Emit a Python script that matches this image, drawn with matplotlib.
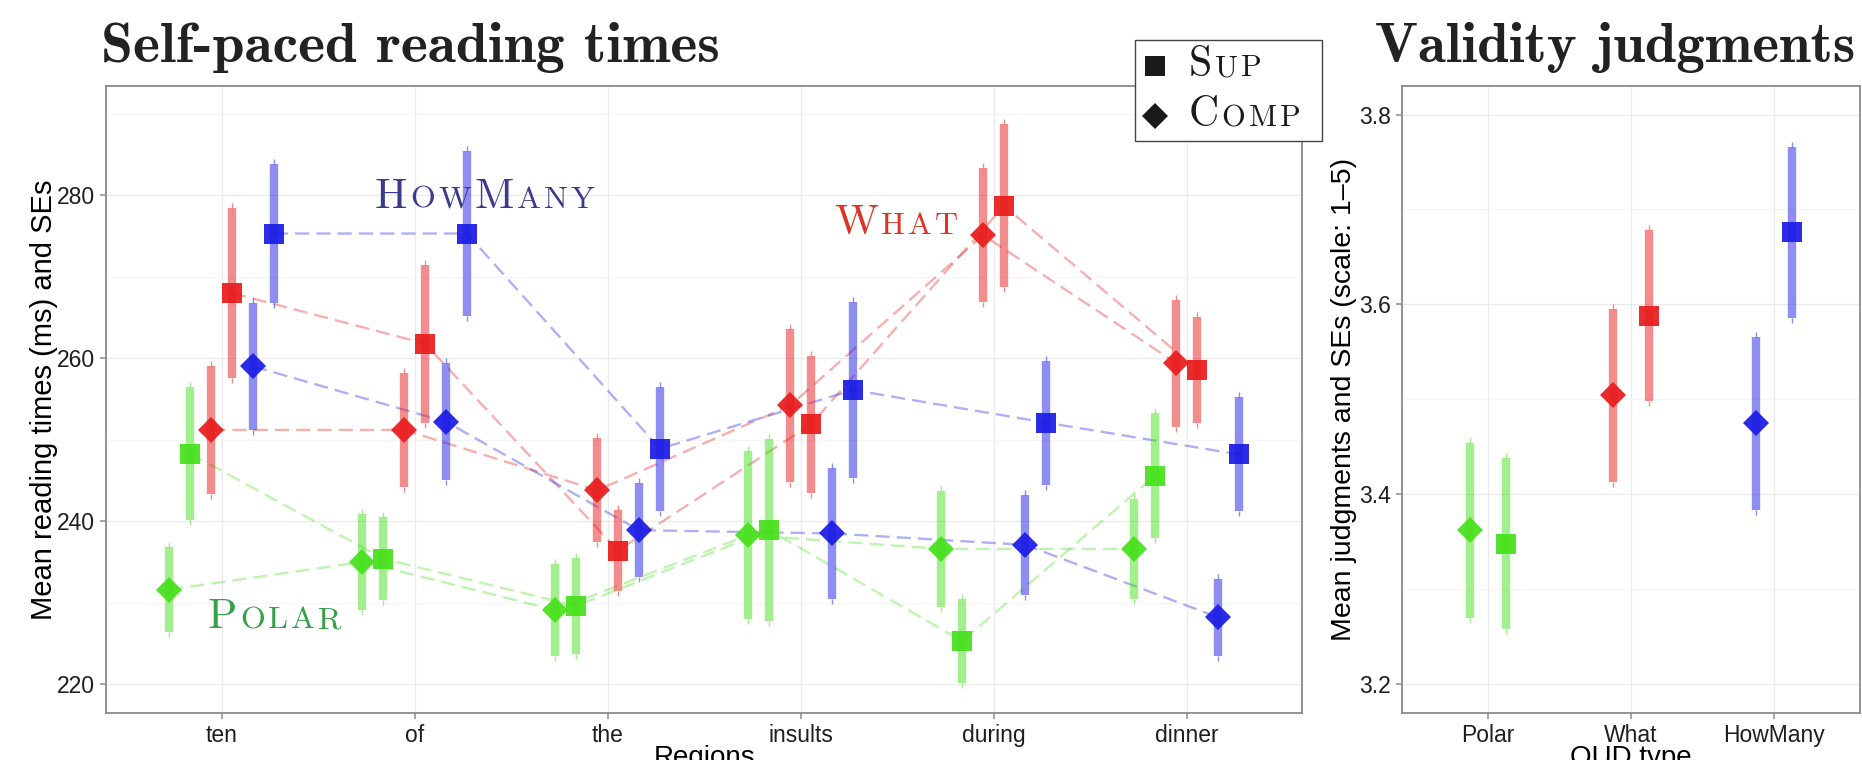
import matplotlib
matplotlib.use("Agg")
import matplotlib.pyplot as plt
import numpy as np
from matplotlib.ticker import MultipleLocator, FixedLocator
from matplotlib.lines import Line2D
from matplotlib.offsetbox import (TextArea, HPacker, VPacker, DrawingArea,
                                  AnnotationBbox, AnchoredOffsetbox)

plt.rcParams['font.family'] = ['Liberation Sans', 'DejaVu Sans']

# ---- data: self-paced reading (ms), mean and SE per region ----
regions = ['ten', 'of', 'the', 'insults', 'during', 'dinner']

polar_comp = [231.6, 235.0, 229.1, 238.3, 236.6, 236.6]
polar_comp_se = [5.2, 5.9, 5.7, 10.3, 7.1, 6.1]
polar_sup = [248.3, 235.4, 229.6, 238.9, 225.3, 245.6]
polar_sup_se = [8.2, 5.1, 5.9, 11.2, 5.1, 7.7]
what_comp = [251.2, 251.2, 243.8, 254.2, 275.1, 259.4]
what_comp_se = [7.9, 7.0, 6.4, 9.4, 8.2, 7.8]
what_sup = [268.0, 261.8, 236.4, 251.9, 278.7, 258.6]
what_sup_se = [10.4, 9.7, 5.0, 8.4, 10.0, 6.5]
howmany_comp = [259.0, 252.2, 238.9, 238.5, 237.1, 228.2]
howmany_comp_se = [7.8, 7.2, 5.8, 8.0, 6.1, 4.7]
howmany_sup = [275.3, 275.3, 248.9, 256.1, 252.1, 248.2]
howmany_sup_se = [8.5, 10.1, 7.6, 10.8, 7.6, 7.0]

# ---- data: validity judgments (scale 1-5) ----
qud_types = ['Polar', 'What', 'HowMany']
judg_comp = [3.362, 3.5045, 3.475]
judg_comp_se = [0.092, 0.091, 0.091]
judg_sup = [3.348, 3.588, 3.676]
judg_sup_se = [0.090, 0.090, 0.090]

RED = '#e81c1c'
BLUE = '#1c1ce6'
GREEN = '#47e01c'

fig = plt.figure(figsize=(18.62, 7.6), dpi=100)
axL = fig.add_axes([0.0568, 0.0622, 0.6427, 0.8246])
axR = fig.add_axes([0.7530, 0.0622, 0.2459, 0.8246])


def style_axes(ax):
    ax.set_facecolor('white')
    for s in ax.spines.values():
        s.set_color('#8a8a8a')
        s.set_linewidth(1.3)
    ax.grid(True, which='major', color='#ebebeb', lw=1.0, zorder=0)
    ax.grid(True, which='minor', axis='y', color='#f5f5f5', lw=0.8, zorder=0)
    ax.set_axisbelow(True)
    ax.tick_params(which='major', length=4, width=1.1, color='#8a8a8a',
                   labelsize=16.5, labelcolor='#1e1e1e', pad=4)
    ax.tick_params(which='minor', length=0)


def draw_series(ax, xs, means, ses, color, marker, ms, ext, connect):
    means = np.asarray(means)
    ses = np.asarray(ses)
    lo, hi = means - ses, means + ses
    if connect:
        ax.plot(xs, means, ls=(0, (6, 3)), lw=1.7, color=color, alpha=0.35, zorder=2)
    ax.vlines(xs, lo, hi, lw=6, color=color, alpha=0.5, zorder=3)
    ax.vlines(xs, hi, hi + ext, lw=1, color=color, alpha=0.5, zorder=3)
    ax.vlines(xs, lo - ext, lo, lw=1, color=color, alpha=0.5, zorder=3)
    ax.plot(xs, means, ls='none', marker=marker, ms=ms, color=color,
            mew=0, alpha=0.93, zorder=4)


# ---- left panel ----
style_axes(axL)
axL.set_xlim(0.4, 6.6)
axL.set_ylim(216.5, 293.4)
ext_l = 5 * (293.4 - 216.5) / (0.8246 * 760)
x = np.arange(1, len(regions) + 1)
dodge = [-0.271, -0.163, -0.054, 0.054, 0.163, 0.271]
series = [
    (polar_comp, polar_comp_se, GREEN, 'D'),
    (polar_sup, polar_sup_se, GREEN, 's'),
    (what_comp, what_comp_se, RED, 'D'),
    (what_sup, what_sup_se, RED, 's'),
    (howmany_comp, howmany_comp_se, BLUE, 'D'),
    (howmany_sup, howmany_sup_se, BLUE, 's'),
]
for (m, se, c, mk), d in zip(series, dodge):
    draw_series(axL, x + d, m, se, c, mk, 13.2 if mk == 'D' else 14.4, ext_l, True)

axL.xaxis.set_major_locator(FixedLocator(x))
axL.set_xticklabels(regions)
axL.yaxis.set_major_locator(MultipleLocator(20))
axL.yaxis.set_minor_locator(MultipleLocator(10))
axL.set_ylabel('Mean reading times (ms) and SEs', fontsize=21)
axL.yaxis.set_label_coords(-0.040, 0.5)
axL.set_xlabel('Regions', fontsize=20, va='top')
axL.xaxis.set_label_coords(0.5, -0.0515)

# ---- right panel ----
style_axes(axR)
axR.set_xlim(0.4, 3.6)
axR.set_ylim(3.17, 3.83)
ext_r = 5 * (3.83 - 3.17) / (0.8246 * 760)
xr = np.arange(1, len(qud_types) + 1)
for i, c in enumerate([GREEN, RED, BLUE]):
    draw_series(axR, [xr[i] - 0.125], [judg_comp[i]], [judg_comp_se[i]], c, 'D', 13.2, ext_r, False)
    draw_series(axR, [xr[i] + 0.125], [judg_sup[i]], [judg_sup_se[i]], c, 's', 14.4, ext_r, False)
axR.xaxis.set_major_locator(FixedLocator(xr))
axR.set_xticklabels(qud_types)
axR.yaxis.set_major_locator(MultipleLocator(0.2))
axR.yaxis.set_minor_locator(MultipleLocator(0.1))
axR.yaxis.set_major_formatter(plt.FormatStrFormatter('%.1f'))
axR.set_ylabel('Mean judgments and SEs (scale: 1\u20135)', fontsize=20.5)
axR.yaxis.set_label_coords(-0.098, 0.5)
axR.set_xlabel('QUD type', fontsize=20, va='top')
axR.xaxis.set_label_coords(0.5, -0.0515)

# ---- titles ----
fig.text(0.0542, 0.9188, 'Self-paced reading times', fontfamily='cmb10',
         fontsize=41.5, va='baseline', color='#222222')
fig.text(0.7385, 0.9188, 'Validity judgments', fontfamily='cmb10',
         fontsize=41, va='baseline', color='#222222')


# ---- small caps helpers (letters spaced a little, like real small caps) ----
def smallcaps(parts, big, small, color, tail=0):
    boxes = []
    for s, b in parts:
        for ch in s:
            boxes.append(TextArea(ch, textprops=dict(fontfamily='cmr10',
                                                     fontsize=big if b else small,
                                                     color=color)))
    if tail:
        boxes.append(DrawingArea(tail, 1, 0, 0))
    return HPacker(children=boxes, align='baseline', pad=0, sep=2.2)


labels = [
    ([('H', True), ('OW', False), ('M', True), ('ANY', False)], '#3b3b8e', 1.795, 277.5),
    ([('W', True), ('HAT', False)], '#dc3527', 4.173, 274.3),
    ([('P', True), ('OLAR', False)], '#35a04a', 0.927, 225.9),
]
for parts, col, lx, ly in labels:
    ab = AnnotationBbox(smallcaps(parts, 31, 23, col), (lx, ly), xycoords='data',
                        box_alignment=(0, 0), frameon=False, pad=0, zorder=6)
    axL.add_artist(ab)


# ---- legend (shape) ----
def key(marker, ms):
    da = DrawingArea(22, 30, 0, 0)
    da.add_artist(Line2D([11], [15], marker=marker, ms=ms, color='#1a1a1a', mew=0, ls='none'))
    return da


row_sup = HPacker(children=[key('s', 14.4),
                            smallcaps([('S', True), ('UP', False)], 30, 22, '#1a1a1a', tail=10)],
                  align='center', pad=0, sep=13)
row_comp = HPacker(children=[key('D', 12.8),
                             smallcaps([('C', True), ('OMP', False)], 30, 22, '#1a1a1a', tail=10)],
                   align='center', pad=0, sep=13)
leg = VPacker(children=[row_sup, row_comp], align='left', pad=0, sep=6)
anch = AnchoredOffsetbox(loc='upper left', child=leg, pad=0.35, borderpad=0,
                         frameon=True, bbox_to_anchor=(0.6096, 0.9474),
                         bbox_transform=fig.transFigure)
anch.patch.set_edgecolor('#444444')
anch.patch.set_linewidth(1.0)
anch.patch.set_boxstyle('square', pad=0)
fig.add_artist(anch)

fig.savefig('out.png', dpi=100)
